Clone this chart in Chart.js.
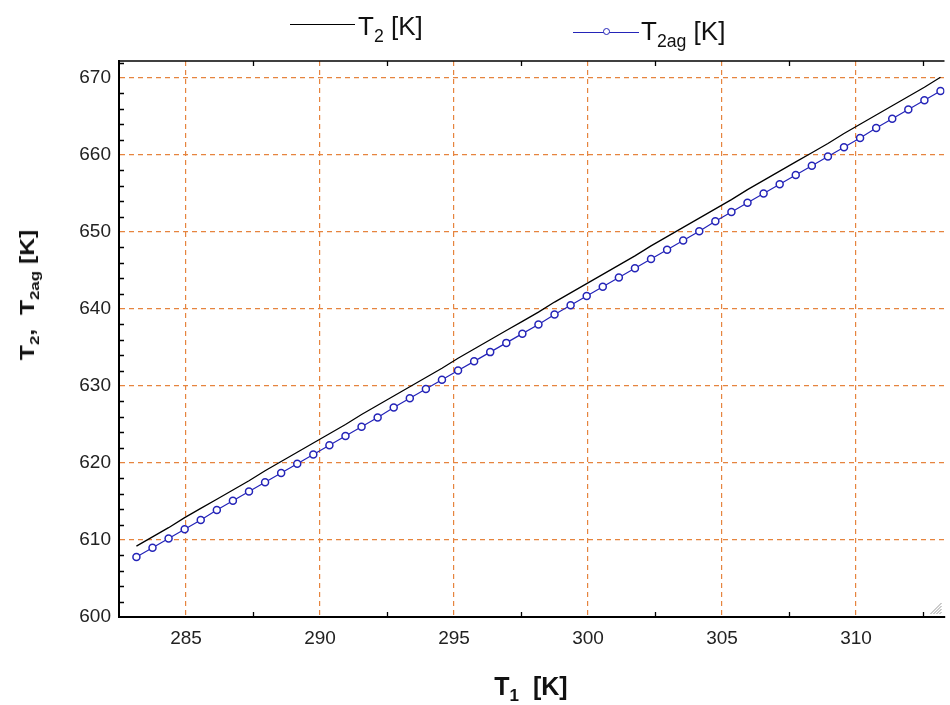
<!DOCTYPE html>
<html>
<head>
<meta charset="utf-8">
<script src="https://cdn.jsdelivr.net/npm/chart.js@4.4.1/dist/chart.umd.min.js"></script>
<style>
  body { margin: 0; background: #fff; }
  #wrap { position: relative; width: 950px; height: 705px; font-family: "Liberation Sans", Arial, sans-serif; color: #111; }
  canvas { position: absolute; left: 0; top: 0; }
  .lbl { position: absolute; white-space: nowrap; line-height: 1; }
  .sub { font-size: 0.68em; position: relative; top: 0.38em; }
  .legline { position: absolute; height: 0; }
  .legdot { position: absolute; width: 5px; height: 5px; border: 1.5px solid #2424b8; border-radius: 50%; background: #fff; }
</style>
</head>
<body>
<div id="wrap">
  <canvas id="chart" width="950" height="705"></canvas>

  <!-- legend -->
  <div class="legline" style="left:290px; top:24px; width:65px; border-top:1.5px solid #000;"></div>
  <div class="lbl" style="left:358px; top:13px; font-size:26px;">T<span class="sub">2</span> [K]</div>
  <div class="legline" style="left:573px; top:32px; width:66px; border-top:1.2px solid #2424b8;"></div>
  <div class="legdot" style="left:603px; top:28px;"></div>
  <div class="lbl" style="left:641px; top:18px; font-size:26px;">T<span class="sub">2ag</span> [K]</div>

  <!-- axis titles -->
  <div class="lbl" id="xTitle" style="left:531px; top:674px; font-size:25px; font-weight:bold; transform:translateX(-50%);">T<span class="sub">1</span>&nbsp;&nbsp;[K]</div>
  <div class="lbl" id="yTitle" style="left:27px; top:295px; font-size:20px; font-weight:bold;">T<span class="sub">2</span>,&nbsp;&nbsp;T<span class="sub">2ag</span> [K]</div>
</div>

<script>
// data
const t1 = [283.15, 283.75, 284.35, 284.95, 285.55, 286.15, 286.75, 287.35, 287.95, 288.55,
  289.15, 289.75, 290.35, 290.95, 291.55, 292.15, 292.75, 293.35, 293.95, 294.55,
  295.15, 295.75, 296.35, 296.95, 297.55, 298.15, 298.75, 299.35, 299.95, 300.55,
  301.15, 301.75, 302.35, 302.95, 303.55, 304.15, 304.75, 305.35, 305.95, 306.55,
  307.15, 307.75, 308.35, 308.95, 309.55, 310.15, 310.75, 311.35, 311.95, 312.55, 313.15];

const t2 = [609.2, 610.4, 611.6, 612.9, 614.1, 615.3, 616.5, 617.7, 619.0, 620.2,
  621.4, 622.6, 623.8, 625.0, 626.3, 627.5, 628.7, 629.9, 631.1, 632.3,
  633.6, 634.8, 636.0, 637.2, 638.4, 639.6, 640.9, 642.1, 643.3, 644.5,
  645.7, 646.9, 648.2, 649.4, 650.6, 651.8, 653.0, 654.2, 655.5, 656.7,
  657.9, 659.1, 660.3, 661.5, 662.8, 664.0, 665.2, 666.4, 667.6, 668.8, 670.1];

const t2ag = [607.8, 609.0, 610.2, 611.4, 612.6, 613.9, 615.1, 616.3, 617.5, 618.7,
  619.9, 621.1, 622.3, 623.5, 624.7, 625.9, 627.2, 628.4, 629.6, 630.8,
  632.0, 633.2, 634.4, 635.6, 636.8, 638.0, 639.3, 640.5, 641.7, 642.9,
  644.1, 645.3, 646.5, 647.7, 648.9, 650.1, 651.4, 652.6, 653.8, 655.0,
  656.2, 657.4, 658.6, 659.8, 661.0, 662.2, 663.5, 664.7, 665.9, 667.1, 668.3];

// tick labels
const xTicks = [285, 290, 295, 300, 305, 310];
const yTicks = [600, 610, 620, 630, 640, 650, 660, 670];
const xMinor = [287.5, 292.5, 297.5, 302.5, 307.5, 312.5];
const yMinor = [602, 604, 606, 608, 612, 614, 616, 618, 622, 624, 626, 628, 632, 634, 636, 638,
  642, 644, 646, 648, 652, 654, 656, 658, 662, 664, 666, 668, 672];

const gridColor = "#e6843e";

// short inward tick marks, top frame line and the corner grip
const frameTicks = {
  id: "frameTicks",
  afterDraw(chart) {
    const { ctx, chartArea: a, scales } = chart;
    ctx.save();
    ctx.strokeStyle = "#000";
    ctx.lineWidth = 1.5;
    ctx.beginPath();
    ctx.moveTo(a.left - 1, a.top);
    ctx.lineTo(a.right, a.top);
    ctx.stroke();

    ctx.lineWidth = 1.3;
    ctx.beginPath();
    xMinor.forEach((v) => {
      const px = Math.round(scales.x.getPixelForValue(v)) + 0.5;
      ctx.moveTo(px, a.bottom);
      ctx.lineTo(px, a.bottom - 5);
      ctx.moveTo(px, a.top);
      ctx.lineTo(px, a.top + 5);
    });
    yMinor.forEach((v) => {
      const py = Math.round(scales.y.getPixelForValue(v)) + 0.5;
      if (py < a.top) return;
      ctx.moveTo(a.left, py);
      ctx.lineTo(a.left + 5, py);
    });
    ctx.stroke();

    // window grip in the corner
    ctx.strokeStyle = "#999";
    ctx.lineWidth = 1;
    ctx.beginPath();
    for (let i = 0; i < 4; i++) {
      ctx.moveTo(a.right - 14 + i * 3, a.bottom - 3);
      ctx.lineTo(a.right - 3, a.bottom - 14 + i * 3);
    }
    ctx.stroke();
    ctx.restore();
  },
};

new Chart(document.getElementById("chart"), {
  type: "scatter",
  data: {
    datasets: [
      {
        label: "T2 [K]",
        data: t1.map((x, i) => ({ x: x, y: t2[i] })),
        showLine: true,
        borderColor: "#000",
        borderWidth: 1.3,
        pointRadius: 0,
      },
      {
        label: "T2ag [K]",
        data: t1.map((x, i) => ({ x: x, y: t2ag[i] })),
        showLine: true,
        borderColor: "#2424b8",
        borderWidth: 1.2,
        pointRadius: 3.5,
        pointBorderWidth: 1.5,
        pointBorderColor: "#2424b8",
        pointBackgroundColor: "#fff",
      },
    ],
  },
  options: {
    responsive: false,
    animation: false,
    layout: { padding: { top: 61, left: 0, right: 0, bottom: 0 } },
    plugins: { legend: { display: false }, tooltip: { enabled: false } },
    scales: {
      x: {
        type: "linear",
        min: 282.5,
        max: 313.3,
        afterBuildTicks: (axis) => { axis.ticks = xTicks.map((v) => ({ value: v })); },
        afterFit: (axis) => { axis.height = 88; },
        grid: { color: gridColor, lineWidth: 1.2, drawTicks: false },
        border: { display: true, color: "#000", width: 2, dash: [5, 4] },
        ticks: {
          padding: 10,
          color: "#222",
          font: { family: "'Liberation Sans', Arial, sans-serif", size: 19 },
          maxRotation: 0,
        },
      },
      y: {
        type: "linear",
        min: 600,
        max: 672.2078,
        afterBuildTicks: (axis) => { axis.ticks = yTicks.map((v) => ({ value: v })); },
        afterFit: (axis) => { axis.width = 119; },
        grid: { color: gridColor, lineWidth: 1.2, drawTicks: false },
        border: { display: true, color: "#000", width: 2, dash: [5, 4] },
        ticks: {
          padding: 8,
          color: "#222",
          font: { family: "'Liberation Sans', Arial, sans-serif", size: 19 },
        },
      },
    },
  },
  plugins: [frameTicks],
});

// stretch the rotated y title to the length it has in the picture
const yTitle = document.getElementById("yTitle");
const k = 130 / yTitle.offsetWidth;
yTitle.style.transform = "translate(-50%, -50%) rotate(-90deg) scaleX(" + k.toFixed(3) + ")";
</script>
</body>
</html>
